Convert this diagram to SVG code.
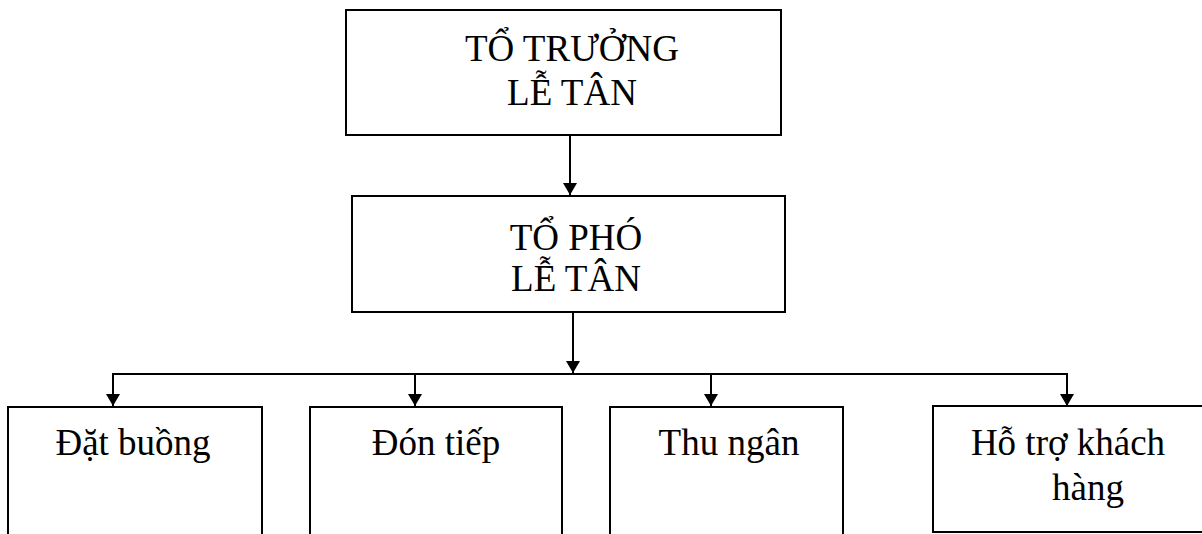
<svg xmlns="http://www.w3.org/2000/svg" width="1202" height="534" viewBox="0 0 1202 534">
<style>
.box{fill:#fff;stroke:#000;stroke-width:2}
.t{font-family:"Liberation Serif","DejaVu Serif",serif;font-size:37px;fill:#000;text-anchor:middle}
.c{stroke:#000;stroke-width:2;fill:none}
</style>
<defs>
<marker id="ah" markerWidth="12" markerHeight="14" refX="12" refY="7" orient="auto" markerUnits="userSpaceOnUse" viewBox="0 0 12 14">
<path d="M0,0 L12,7 L0,14 Z" fill="#000"/>
</marker>
</defs>
<rect width="1202" height="534" fill="#fff"/>
<g id="connectors">
<line class="c" x1="570" y1="135" x2="570" y2="195" marker-end="url(#ah)"/>
<line class="c" x1="573" y1="313" x2="573" y2="373" marker-end="url(#ah)"/>
<line class="c" x1="112" y1="374" x2="1068" y2="374"/>
<line class="c" x1="113" y1="374" x2="113" y2="406" marker-end="url(#ah)"/>
<line class="c" x1="415" y1="374" x2="415" y2="406" marker-end="url(#ah)"/>
<line class="c" x1="711" y1="374" x2="711" y2="406" marker-end="url(#ah)"/>
<line class="c" x1="1067" y1="374" x2="1067" y2="406" marker-end="url(#ah)"/>
</g>
<g id="n1">
<rect class="box" x="346" y="10" width="435" height="125"/>
<text class="t" x="572" y="61">TỔ TRƯỞNG</text>
<text class="t" x="572" y="105">LỄ TÂN</text>
</g>
<g id="n2">
<rect class="box" x="352" y="196" width="433" height="116"/>
<text class="t" x="576" y="250">TỔ PHÓ</text>
<text class="t" x="576" y="291">LỄ TÂN</text>
</g>
<g id="n3">
<rect class="box" x="8" y="407" width="254" height="130"/>
<text class="t" x="133" y="455">Đặt buồng</text>
</g>
<g id="n4">
<rect class="box" x="310" y="407" width="252" height="130"/>
<text class="t" x="436" y="455">Đón tiếp</text>
</g>
<g id="n5">
<rect class="box" x="610" y="407" width="233" height="130"/>
<text class="t" x="729" y="455">Thu ngân</text>
</g>
<g id="n6">
<rect class="box" x="933" y="406" width="271" height="126"/>
<text class="t" x="1068" y="455">Hỗ trợ khách</text>
<text class="t" x="1088" y="500">hàng</text>
</g>
</svg>
